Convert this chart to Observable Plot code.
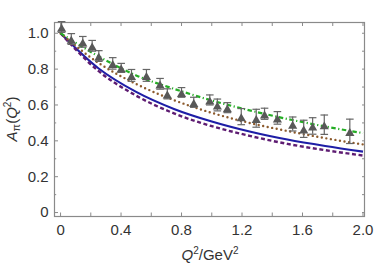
<!DOCTYPE html>
<html><head><meta charset="utf-8">
<script src="https://cdn.jsdelivr.net/npm/d3@7"></script>
<script src="https://cdn.jsdelivr.net/npm/@observablehq/plot@0.6"></script>
<style>body{margin:0;background:#fff} svg{display:block}</style>
</head><body><div id="chart"></div>
<script>
// Model curves
const curveQ2   = [0, 0.25, 0.5, 0.75, 1.0, 1.25, 1.5, 1.75, 2.0];
const blueSolid = [1.0, 0.805, 0.673, 0.578, 0.508, 0.452, 0.407, 0.371, 0.340];
const purpleDash = [1.0, 0.790, 0.652, 0.553, 0.482, 0.428, 0.383, 0.348, 0.318];
const brownDot  = [1.0, 0.835, 0.717, 0.627, 0.556, 0.500, 0.455, 0.415, 0.380];
const greenDashDot = [1.0, 0.872, 0.765, 0.690, 0.625, 0.570, 0.522, 0.480, 0.443];

// Data points (triangles with error bars)
const dataQ2 = [0.007, 0.071, 0.147, 0.209, 0.253, 0.345, 0.401, 0.469, 0.568, 0.658, 0.706, 0.800, 0.881, 0.987, 1.037, 1.103, 1.195, 1.294, 1.349, 1.434, 1.535, 1.608, 1.667, 1.744, 1.913];
const dataA  = [1.035, 0.968, 0.952, 0.930, 0.873, 0.832, 0.807, 0.765, 0.765, 0.718, 0.662, 0.670, 0.615, 0.628, 0.600, 0.585, 0.535, 0.526, 0.551, 0.528, 0.494, 0.467, 0.483, 0.490, 0.453];
const dataErr = [0.030, 0.030, 0.030, 0.030, 0.030, 0.032, 0.025, 0.033, 0.033, 0.030, 0.028, 0.027, 0.028, 0.028, 0.033, 0.028, 0.045, 0.050, 0.031, 0.035, 0.039, 0.048, 0.046, 0.054, 0.068];

// Ticks
const xTicks = [0, 0.2, 0.4, 0.6, 0.8, 1.0, 1.2, 1.4, 1.6, 1.8, 2.0];
const xLabels = [0, 0.4, 0.8, 1.2, 1.6, 2.0];
const yMajor = [0, 0.2, 0.4, 0.6, 0.8, 1.0];
const yMinor = [0.1, 0.3, 0.5, 0.7, 0.9];
const yAll = [0, 0.1, 0.2, 0.3, 0.4, 0.5, 0.6, 0.7, 0.8, 0.9, 1.0];

const series = [
  {name: "blue", values: blueSolid, stroke: "#1e1ea6", width: 2.1, dash: null, cap: "butt"},
  {name: "purple", values: purpleDash, stroke: "#5e1c72", width: 2.4, dash: "4,2.6", cap: "butt"},
  {name: "brown", values: brownDot, stroke: "#8c5a2c", width: 2.4, dash: "0,4.6", cap: "round"},
  {name: "green", values: greenDashDot, stroke: "#25ad25", width: 2.2, dash: "4.5,2.5,1.2,2.5", cap: "butt"}
];

const points = dataQ2.map((q, i) => ({q, a: dataA[i], lo: dataA[i] - dataErr[i], hi: dataA[i] + dataErr[i]}));

const capSymbol = {
  draw(ctx, size) {
    const r = Math.sqrt(size / Math.PI);
    ctx.moveTo(-r, 0); ctx.lineTo(r, 0);
  }
};

const fmt = d => d === 0 ? "0" : d.toFixed(1);
const font = "Liberation Sans, Arial, sans-serif";

const lineMarks = series.map(s => Plot.line(curveQ2.map((q, i) => ({q, a: s.values[i]})), {
  x: "q", y: "a", stroke: s.stroke, strokeWidth: s.width,
  strokeDasharray: s.dash, strokeLinecap: s.cap, curve: "monotone-x"
}));

const plot = Plot.plot({
  width: 374, height: 266,
  marginLeft: 54, marginRight: 10, marginTop: 22, marginBottom: 50,
  style: {fontFamily: font, fontSize: "15px", color: "#333", background: "white"},
  x: {domain: [-0.04, 2.01]},
  y: {domain: [-0.022, 1.06]},
  marks: [
    Plot.frame({stroke: "#8a8a8a", strokeWidth: 1.2}),
    // ticks (inward)
    Plot.axisX({anchor: "bottom", ticks: xTicks, tickSize: -3.5, fill: "none", stroke: "#8a8a8a", label: null}),
    Plot.axisX({anchor: "top", ticks: xTicks, tickSize: -3, fill: "none", stroke: "#8a8a8a", label: null}),
    Plot.axisY({anchor: "left", ticks: yMajor, tickSize: -4, fill: "none", stroke: "#8a8a8a", label: null}),
    Plot.axisY({anchor: "left", ticks: yMinor, tickSize: -2.2, fill: "none", stroke: "#8a8a8a", label: null}),
    Plot.axisY({anchor: "right", ticks: yAll, tickSize: -3, fill: "none", stroke: "#8a8a8a", label: null}),
    // labels
    Plot.axisX({anchor: "bottom", ticks: xLabels, tickSize: 0, tickPadding: 8, tickFormat: fmt, label: null, fill: "#333"}),
    Plot.axisY({anchor: "left", ticks: yMajor, tickSize: 0, tickPadding: 6, tickFormat: fmt, label: null, fill: "#333"}),
    ...lineMarks,
    // error bars
    Plot.ruleX(points, {x: "q", y1: "lo", y2: "hi", stroke: "#666", strokeWidth: 1.2}),
    Plot.dot(points, {x: "q", y: "hi", symbol: capSymbol, r: 3.8, stroke: "#666", strokeWidth: 1.2, fill: "none"}),
    Plot.dot(points, {x: "q", y: "lo", symbol: capSymbol, r: 3.8, stroke: "#666", strokeWidth: 1.2, fill: "none"}),
    Plot.dot(points, {x: "q", y: "a", symbol: "triangle", r: 3.4, fill: "#585858", stroke: "none", dy: 2})
  ]
});

const svg = d3.select(plot);
// y-axis label A_π(Q²)
const yl = svg.append("text")
  .attr("transform", "translate(17,119) rotate(-90)")
  .attr("text-anchor", "middle")
  .attr("font-family", font).attr("font-size", 15).attr("fill", "#333");
yl.append("tspan").attr("font-style", "italic").text("A");
yl.append("tspan").attr("font-size", 11).attr("dy", 3).text("π");
yl.append("tspan").attr("dy", -3).text("(");
yl.append("tspan").attr("font-style", "italic").text("Q");
yl.append("tspan").attr("font-size", 10).attr("dy", -6).text("2");
yl.append("tspan").attr("dy", 6).text(")");

// x-axis label Q²/GeV²
const xl = svg.append("text")
  .attr("x", 210).attr("y", 260)
  .attr("text-anchor", "middle")
  .attr("font-family", font).attr("font-size", 15).attr("fill", "#333");
xl.append("tspan").attr("font-style", "italic").text("Q");
xl.append("tspan").attr("font-size", 10).attr("dy", -6).text("2");
xl.append("tspan").attr("dy", 6).text("/GeV");
xl.append("tspan").attr("font-size", 10).attr("dy", -6).text("2");

document.getElementById("chart").appendChild(plot);
</script>
</body></html>
